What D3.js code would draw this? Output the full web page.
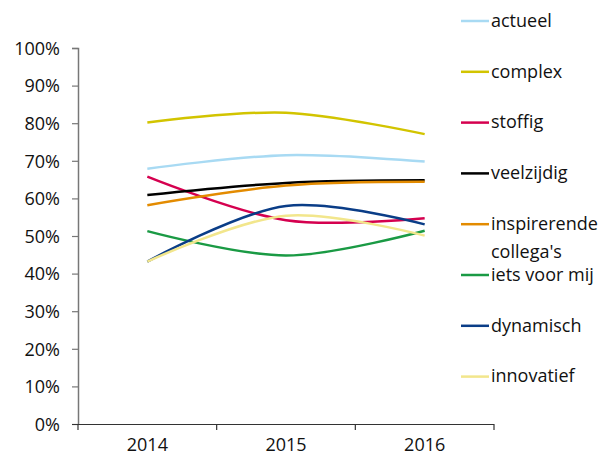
<!DOCTYPE html>
<html>
<head>
<meta charset="utf-8">
<script src="https://cdn.jsdelivr.net/npm/d3@7"></script>
<style>
    body { margin: 0; background: #fff; }
    svg text { font-family: "Open Sans", sans-serif; font-size: 18px; fill: #111; }
</style>
</head>
<body>
<svg id="chart" width="611" height="458"></svg>
<script>
const years = ["2014", "2015", "2016"];
const seriesNames = ["actueel", "complex", "stoffig", "veelzijdig", "inspirerende collega's", "iets voor mij", "dynamisch", "innovatief"];
const seriesColors = ["#a8daf3", "#d2c400", "#d5004f", "#000000", "#e38b00", "#1a9a44", "#0a3d87", "#f2e68c"];

const actueel = [0.679, 0.715, 0.698];
const complex = [0.802, 0.828, 0.771];
const stoffig = [0.658, 0.542, 0.547];
const veelzijdig = [0.609, 0.641, 0.648];
const inspirerende = [0.582, 0.634, 0.644];
const ietsVoorMij = [0.513, 0.448, 0.514];
const dynamisch = [0.432, 0.580, 0.531];
const innovatief = [0.432, 0.554, 0.501];

const seriesValues = [actueel, complex, stoffig, veelzijdig, inspirerende, ietsVoorMij, dynamisch, innovatief];
const yTicks = [0, 0.1, 0.2, 0.3, 0.4, 0.5, 0.6, 0.7, 0.8, 0.9, 1.0];

const svg = d3.select("#chart");
const margin = {left: 78, top: 48, right: 117, bottom: 34};
const width = 611 - margin.left - margin.right;
const height = 458 - margin.top - margin.bottom;

const x = d3.scaleBand().domain(years).range([0, width]);
const y = d3.scaleLinear().domain([0, 1]).range([height, 0]);

const g = svg.append("g").attr("transform", `translate(${margin.left},${margin.top})`);

// y axis
const yAxis = g.append("g")
    .call(d3.axisLeft(y).tickValues(yTicks).tickSize(6).tickPadding(12).tickFormat(d3.format(".0%")));
yAxis.select(".domain").attr("stroke", "#777").attr("stroke-width", 1.5).attr("d", `M-6,0.5H0.5V${height}`);
yAxis.selectAll(".tick line").attr("stroke", "#777").attr("stroke-width", 1.2);
yAxis.selectAll("text").attr("dy", "0.35em");

// x axis
const xAxis = g.append("g")
    .attr("transform", `translate(0,${height})`)
    .call(d3.axisBottom(x).tickSize(0).tickPadding(14));
xAxis.select(".domain").attr("stroke", "#333").attr("stroke-width", 1.2).attr("d", `M-6,0.5H${width}`);
xAxis.selectAll("text").attr("dy", "0.71em");
const xBounds = d3.range(years.length + 1).map(i => i * x.bandwidth());
xAxis.selectAll(".sep")
    .data(xBounds)
    .join("line")
    .attr("class", "sep")
    .attr("x1", d => d).attr("x2", d => d)
    .attr("y1", 0).attr("y2", 6)
    .attr("stroke", "#333").attr("stroke-width", 1.2);

// lines
const line = d3.line()
    .x((d, i) => x(years[i]) + x.bandwidth() / 2)
    .y(d => y(d))
    .curve(d3.curveCatmullRom.alpha(0.5));

g.append("g").selectAll("path")
    .data(seriesValues)
    .join("path")
    .attr("d", d => line(d))
    .attr("fill", "none")
    .attr("stroke", (d, i) => seriesColors[i])
    .attr("stroke-width", 2.5);

// legend
const legend = svg.append("g").attr("transform", "translate(461,21)");
const item = legend.selectAll("g")
    .data(seriesNames)
    .join("g")
    .attr("transform", (d, i) => `translate(0,${i * 50.8})`);
item.append("line")
    .attr("x1", 0).attr("x2", 28)
    .attr("stroke", (d, i) => seriesColors[i])
    .attr("stroke-width", 2.5);
item.append("text")
    .attr("x", 30)
    .each(function(d) {
        // long label wraps onto a second line, as in the original
        const parts = d === "inspirerende collega's" ? ["inspirerende", "collega's"] : [d];
        d3.select(this).selectAll("tspan")
            .data(parts)
            .join("tspan")
            .attr("x", 30)
            .attr("dy", (p, j) => j === 0 ? "0.32em" : "28px")
            .text(p => p);
    });
</script>
</body>
</html>
